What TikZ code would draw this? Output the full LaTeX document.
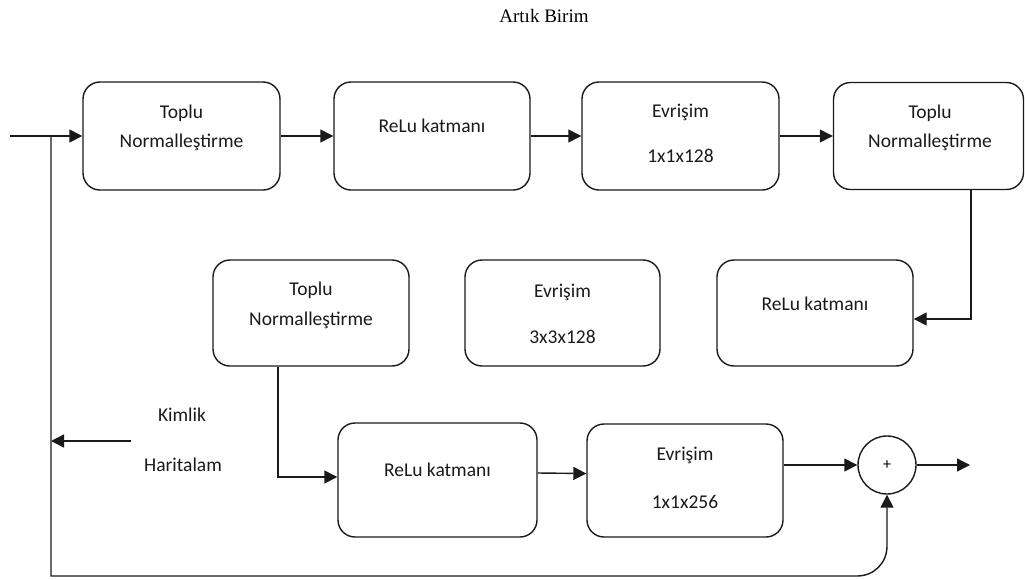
\documentclass[tikz,border=0pt]{standalone}
\usepackage{fontspec}
\setmainfont{Carlito}
\newfontfamily\titlefont{Liberation Serif}
\usetikzlibrary{arrows.meta}
\definecolor{ln}{HTML}{1A1A1A}
\tikzset{
  box/.style={draw=ln, line width=1.4pt, rounded corners=17pt, minimum height=107pt, inner sep=0pt},
  txt/.style={inner sep=0pt, font=\fontsize{19.5}{22}\selectfont, text=ln},
  conn/.style={draw=ln, line width=1.4pt},
  arr/.style={conn, -{Triangle[length=13pt,width=13pt]}}
}
\begin{document}
\begin{tikzpicture}[x=1pt,y=-1pt]
\useasboundingbox (0,0) rectangle (1025,579);
% title
\node[inner sep=0pt, anchor=base, font=\titlefont\fontsize{19}{22}\selectfont] (title) at (544,22) {Artık Birim};
% row 1
\node[box, minimum width=197pt, minimum height=108pt] (b1) at (181.5,136) {};
\node[box, minimum width=196pt, minimum height=108pt] (b2) at (432,136) {};
\node[box, minimum width=197pt, minimum height=108pt] (b3) at (680.5,136) {};
\node[box, minimum width=190pt, minimum height=107pt] (b4) at (928.5,136) {};
% row 2
\node[box, minimum width=196pt, minimum height=106pt] (b5) at (311,313) {};
\node[box, minimum width=195pt, minimum height=106pt] (b6) at (562.5,313) {};
\node[box, minimum width=196pt, minimum height=106pt] (b7) at (815,313) {};
% row 3
\node[box, minimum width=199pt, minimum height=114pt] (b8) at (437.5,480) {};
\node[box, minimum width=196pt, minimum height=113pt] (b9) at (685,480.5) {};
\node[draw=ln, line width=1.4pt, circle, minimum size=58pt, inner sep=0pt, font=\fontsize{16}{17}\selectfont] (c) at (887,465) {+};
% texts
\node[txt] (t1a) at (181.5,113) {Toplu};
\node[txt] (t1b) at (181.5,142) {Normalleştirme};
\node[txt] (t2) at (432,126) {ReLu katmanı};
\node[txt] (t3a) at (680.5,112) {Evrişim};
\node[txt] (t3b) at (680.5,156) {1x1x128};
\node[txt] (t4a) at (930,113) {Toplu};
\node[txt] (t4b) at (930,142) {Normalleştirme};
\node[txt] (t5a) at (311,290) {Toplu};
\node[txt] (t5b) at (311,320) {Normalleştirme};
\node[txt] (t6a) at (562.5,292) {Evrişim};
\node[txt] (t6b) at (562.5,337) {3x3x128};
\node[txt] (t7) at (815,304) {ReLu katmanı};
\node[txt] (t8) at (437.5,470) {ReLu katmanı};
\node[txt] (t9a) at (685,455) {Evrişim};
\node[txt] (t9b) at (685,502) {1x1x256};
\node[txt] (k1) at (182,415) {Kimlik};
\node[txt] (k2) at (183,465) {Haritalam};
% coordinates
\coordinate (in) at (10,136);
\coordinate (split) at (51,136);
\coordinate (out) at (970,465);
\coordinate (idstart) at (131,441);
\coordinate (idend) at (51,441);
\coordinate (bl) at (51,576);
\coordinate (br) at (857,576);
\coordinate (bu) at (887,546);
% connectors
\draw[arr] (in) -- (b1.west);
\draw[arr] (b1.east) -- (b2.west);
\draw[arr] (b2.east) -- (b3.west);
\draw[arr] (b3.east) -- (b4.west);
\draw[arr] ([xshift=42.5pt]b4.south) |- ([yshift=-6pt]b7.east);
\draw[arr] ([xshift=-33pt]b5.south) |- ([yshift=3pt]b8.west);
\draw[arr] ([yshift=7pt]b8.east) -- ([yshift=7pt]b9.west);
\draw[arr] ([yshift=15.5pt]b9.east) -- (c.west);
\draw[arr] (c.east) -- (out);
\draw[arr] (idstart) -- (idend);
\draw[arr] (split) -- (bl) -- (br) .. controls (874,576) and (887,563) .. (bu) -- (c.south);
\end{tikzpicture}
\end{document}
